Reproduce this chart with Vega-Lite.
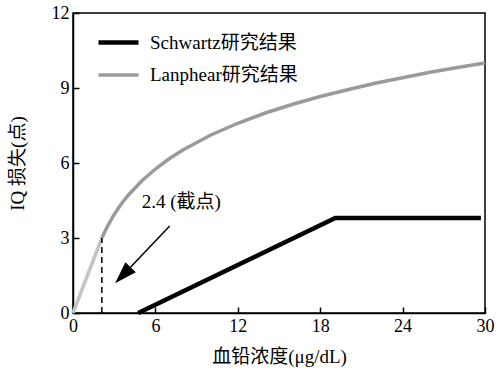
{
  "$schema": "https://vega.github.io/schema/vega-lite/v6.json",
  "width": 412,
  "height": 300,
  "autosize": {"type": "none"},
  "padding": {"left": 73, "top": 13, "right": 19, "bottom": 67},
  "background": "white",
  "config": {
    "font": "Liberation Serif, Noto Sans CJK SC",
    "view": {"stroke": "black", "strokeWidth": 1.5},
    "axis": {
      "grid": false,
      "domainColor": "black",
      "domainWidth": 1.5,
      "tickColor": "black",
      "tickWidth": 1.5,
      "tickSize": -6,
      "labelFont": "Liberation Serif, Noto Sans CJK SC",
      "labelFontSize": 18,
      "labelColor": "black",
      "labelFlush": false,
      "titleFont": "Liberation Serif, Noto Sans CJK SC",
      "titleFontSize": 19,
      "titleFontWeight": "normal",
      "titleColor": "black"
    }
  },
  "datasets": {
    "curves": [
      {"study": "Schwartz研究结果", "x": 4.75, "y": 0},
      {"study": "Schwartz研究结果", "x": 19.1, "y": 3.8},
      {"study": "Schwartz研究结果", "x": 29.7, "y": 3.8},
      {"study": "Lanphear研究结果", "x": 2.1, "y": 3.0},
      {"study": "Lanphear研究结果", "x": 2.5, "y": 3.46},
      {"study": "Lanphear研究结果", "x": 3, "y": 3.94},
      {"study": "Lanphear研究结果", "x": 3.5, "y": 4.35},
      {"study": "Lanphear研究结果", "x": 4, "y": 4.7},
      {"study": "Lanphear研究结果", "x": 5, "y": 5.28},
      {"study": "Lanphear研究结果", "x": 6, "y": 5.76},
      {"study": "Lanphear研究结果", "x": 7, "y": 6.17},
      {"study": "Lanphear研究结果", "x": 8, "y": 6.52},
      {"study": "Lanphear研究结果", "x": 10, "y": 7.11},
      {"study": "Lanphear研究结果", "x": 12, "y": 7.59},
      {"study": "Lanphear研究结果", "x": 14, "y": 8.0},
      {"study": "Lanphear研究结果", "x": 16, "y": 8.35},
      {"study": "Lanphear研究结果", "x": 18, "y": 8.66},
      {"study": "Lanphear研究结果", "x": 20, "y": 8.93},
      {"study": "Lanphear研究结果", "x": 22, "y": 9.19},
      {"study": "Lanphear研究结果", "x": 24, "y": 9.41},
      {"study": "Lanphear研究结果", "x": 26, "y": 9.63},
      {"study": "Lanphear研究结果", "x": 28, "y": 9.82},
      {"study": "Lanphear研究结果", "x": 30, "y": 10.0}
    ],
    "linear": [
      {"x": 0, "y": 0},
      {"x": 2.1, "y": 3.0}
    ],
    "cut": [
      {"x": 2.1, "y": 0, "y2": 3.0}
    ],
    "arrow": [
      {"x": 7.04, "y": 3.48, "x2": 3.63, "y2": 1.51, "hx": 3.63, "hy": 1.51}
    ],
    "label": [
      {"x": 5.0, "y": 4.45, "text": "2.4 (截点)"}
    ]
  },
  "layer": [
    {
      "data": {"name": "linear"},
      "mark": {"type": "line", "color": "#c4c4c4", "strokeWidth": 3.5},
      "encoding": {
        "x": {"field": "x", "type": "quantitative", "scale": {"domain": [0, 30], "nice": false},
          "axis": {"values": [0, 6, 12, 18, 24, 30], "title": "血铅浓度(μg/dL)", "labelPadding": 10, "titlePadding": 12}},
        "y": {"field": "y", "type": "quantitative", "scale": {"domain": [0, 12], "nice": false},
          "axis": {"values": [0, 3, 6, 9, 12], "title": "IQ 损失(点)", "labelPadding": 10, "titlePadding": 24}}
      }
    },
    {
      "data": {"name": "curves"},
      "mark": {"type": "line", "strokeCap": "butt"},
      "encoding": {
        "x": {"field": "x", "type": "quantitative"},
        "y": {"field": "y", "type": "quantitative"},
        "color": {"field": "study", "type": "nominal",
          "scale": {"domain": ["Schwartz研究结果", "Lanphear研究结果"], "range": ["black", "#9a9a9a"]},
          "legend": {"orient": "none", "legendX": 23, "legendY": 7, "title": null, "padding": 0,
            "symbolType": "stroke", "symbolSize": 1600, "symbolStrokeWidth": 3.5, "rowPadding": -12,
            "labelFont": "Liberation Serif, Noto Sans CJK SC", "labelFontSize": 19, "labelColor": "black", "labelOffset": 9}},
        "strokeWidth": {"field": "study", "type": "nominal", "scale": {"domain": ["Schwartz研究结果", "Lanphear研究结果"], "range": [4.5, 3.5]}, "legend": null}
      }
    },
    {
      "data": {"name": "cut"},
      "mark": {"type": "rule", "color": "black", "strokeWidth": 1.5, "strokeDash": [6, 4]},
      "encoding": {
        "x": {"field": "x", "type": "quantitative"},
        "y": {"field": "y", "type": "quantitative"},
        "y2": {"field": "y2"}
      }
    },
    {
      "data": {"name": "arrow"},
      "mark": {"type": "rule", "color": "black", "strokeWidth": 1.5},
      "encoding": {
        "x": {"field": "x", "type": "quantitative"},
        "y": {"field": "y", "type": "quantitative"},
        "x2": {"field": "x2"},
        "y2": {"field": "y2"}
      }
    },
    {
      "data": {"name": "arrow"},
      "mark": {"type": "point", "shape": "M0,-1L0.65,1L-0.65,1Z", "filled": true, "color": "black", "opacity": 1, "size": 500, "angle": 224},
      "encoding": {
        "x": {"field": "hx", "type": "quantitative"},
        "y": {"field": "hy", "type": "quantitative"}
      }
    },
    {
      "data": {"name": "label"},
      "mark": {"type": "text", "align": "left", "baseline": "middle", "fontSize": 19, "font": "Liberation Serif, Noto Sans CJK SC", "color": "black"},
      "encoding": {
        "x": {"field": "x", "type": "quantitative"},
        "y": {"field": "y", "type": "quantitative"},
        "text": {"field": "text"}
      }
    }
  ]
}
